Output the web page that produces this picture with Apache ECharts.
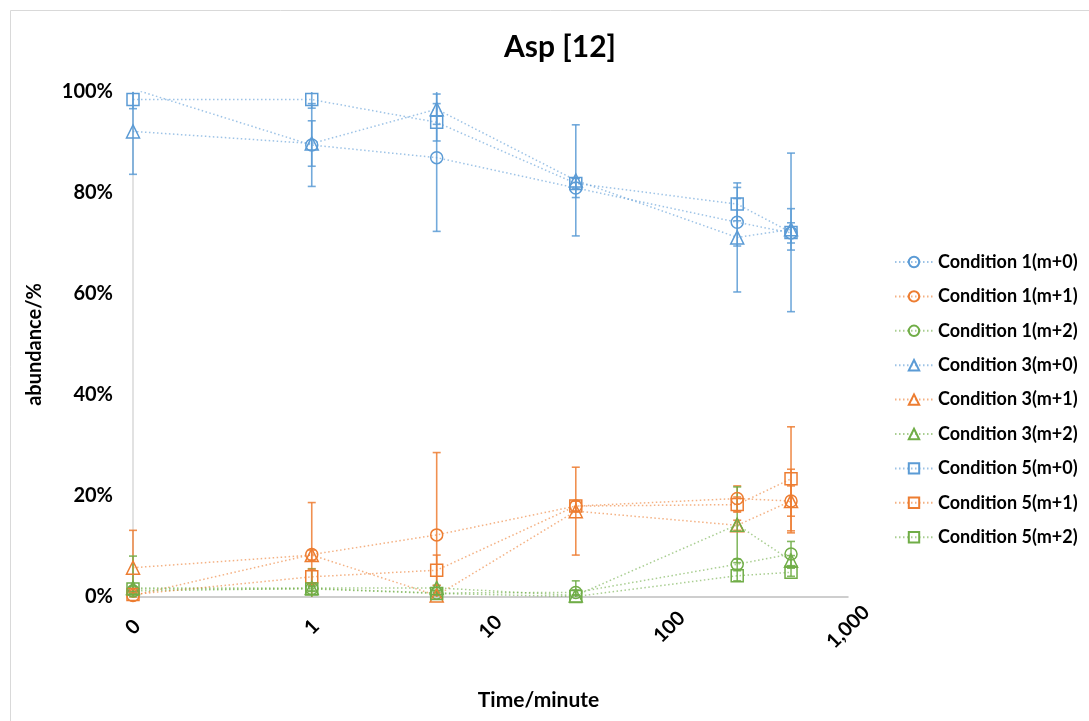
<!DOCTYPE html>
<html>
<head>
<meta charset="utf-8">
<title>Asp [12]</title>
<script src="https://cdn.jsdelivr.net/npm/echarts@6/dist/echarts.min.js"></script>
<style>
  html, body { margin: 0; padding: 0; background: #ffffff; }
  #chart { width: 1089px; height: 721px; }
</style>
</head>
<body>
<div id="chart"></div>
<script>
// Sampling times (minutes); the first sample sits on the "0" position of the log axis
const times = [0.1, 1, 5, 30, 240, 480];
const xTicks = [0.1, 1, 10, 100, 1000];
const xTickLabels = ['0', '1', '10', '100', '1,000'];
const yTicks = [0, 20, 40, 60, 80, 100];

// Isotopologue abundance (%) and error (±%) per condition
const c1m0 = [100.6, 89.5, 87.0, 81.0, 74.2, 72.1];
const c1m0Err = [0, 8.2, 14.6, 1.9, 4.7, 2.0];
const c1m1 = [0.3, 8.4, 12.3, 18.0, 19.5, 19.0];
const c1m1Err = [0.5, 10.3, 16.3, 1.0, 2.5, 3.0];
const c1m2 = [1.2, 1.7, 0.8, 0.9, 6.5, 8.5];
const c1m2Err = [0.5, 0.5, 0.5, 0.5, 1.0, 2.5];

const c3m0 = [92.2, 89.8, 96.6, 82.5, 71.2, 72.8];
const c3m0Err = [8.5, 4.5, 3.0, 11.0, 10.8, 4.1];
const c3m1 = [5.8, 8.3, 0.3, 17.0, 14.2, 19.0];
const c3m1Err = [7.4, 1.0, 0.5, 8.7, 1.0, 6.3];
const c3m2 = [1.8, 1.8, 1.8, 0.3, 14.3, 7.2];
const c3m2Err = [6.3, 3.8, 0.5, 2.9, 7.5, 1.0];

const c5m0 = [98.5, 98.5, 94.0, 81.9, 77.8, 72.2];
const c5m0Err = [1.8, 1.7, 3.7, 1.0, 3.3, 15.7];
const c5m1 = [0.5, 4.0, 5.3, 18.0, 18.3, 23.4];
const c5m1Err = [0.5, 1.5, 3.0, 1.0, 1.5, 10.3];
const c5m2 = [1.6, 1.6, 0.7, 0.1, 4.2, 4.9];
const c5m2Err = [0.5, 0.5, 0.3, 0.3, 1.0, 0.8];

const seriesNames = [
  'Condition 1(m+0)', 'Condition 1(m+1)', 'Condition 1(m+2)',
  'Condition 3(m+0)', 'Condition 3(m+1)', 'Condition 3(m+2)',
  'Condition 5(m+0)', 'Condition 5(m+1)', 'Condition 5(m+2)'
];

const BLUE = '#5b9bd5', ORANGE = '#ed7d31', GREEN = '#70ad47';
const FONT = 'Lato, "Open Sans", sans-serif';

const defs = [
  { values: c1m0, err: c1m0Err, color: BLUE,   symbol: 'circle' },
  { values: c1m1, err: c1m1Err, color: ORANGE, symbol: 'circle' },
  { values: c1m2, err: c1m2Err, color: GREEN,  symbol: 'circle' },
  { values: c3m0, err: c3m0Err, color: BLUE,   symbol: 'triangle' },
  { values: c3m1, err: c3m1Err, color: ORANGE, symbol: 'triangle' },
  { values: c3m2, err: c3m2Err, color: GREEN,  symbol: 'triangle' },
  { values: c5m0, err: c5m0Err, color: BLUE,   symbol: 'rect' },
  { values: c5m1, err: c5m1Err, color: ORANGE, symbol: 'rect' },
  { values: c5m2, err: c5m2Err, color: GREEN,  symbol: 'rect' }
];

const Y_MIN = 0, Y_MAX = 100;
const CAP = 4;

// Vertical error bar with caps, cut off at the plot edges
function errorBarRenderer(color) {
  return function (params, api) {
    const x = api.value(0), y = api.value(1), e = api.value(2);
    if (!e) return null;
    const hi = y + e, lo = y - e;
    const top = api.coord([x, Math.min(hi, Y_MAX)]);
    const bot = api.coord([x, Math.max(lo, Y_MIN)]);
    const style = { stroke: color, lineWidth: 1.6, opacity: 0.85 };
    const children = [{
      type: 'line',
      shape: { x1: top[0], y1: top[1], x2: bot[0], y2: bot[1] },
      style: style
    }];
    if (hi <= Y_MAX) {
      children.push({ type: 'line', shape: { x1: top[0] - CAP, y1: top[1], x2: top[0] + CAP, y2: top[1] }, style: style });
    }
    if (lo >= Y_MIN) {
      children.push({ type: 'line', shape: { x1: bot[0] - CAP, y1: bot[1], x2: bot[0] + CAP, y2: bot[1] }, style: style });
    }
    return { type: 'group', children: children };
  };
}

const series = [];
defs.forEach(function (d, i) {
  series.push({
    name: seriesNames[i] + ' error',
    type: 'custom',
    renderItem: errorBarRenderer(d.color),
    encode: { x: 0, y: 1 },
    data: times.map(function (t, k) { return [t, d.values[k], d.err[k]]; }),
    z: 2,
    silent: true
  });
});
defs.forEach(function (d, i) {
  series.push({
    name: seriesNames[i],
    type: 'line',
    data: times.map(function (t, k) { return [t, d.values[k]]; }),
    symbol: d.symbol,
    symbolSize: d.symbol === 'triangle' ? 13 : 12,
    clip: true,
    lineStyle: { color: d.color, width: 1.5, type: [1.5, 2.5], opacity: 0.6 },
    itemStyle: { color: 'rgba(255,255,255,0)', borderColor: d.color, borderWidth: 1.5 },
    emphasis: { disabled: true },
    z: 3
  });
});

const chart = echarts.init(document.getElementById('chart'), null, { renderer: 'canvas' });
chart.setOption({
  animation: false,
  backgroundColor: '#ffffff',
  textStyle: { fontFamily: FONT },
  graphic: [{
    type: 'rect',
    shape: { x: 10.5, y: 10.5, width: 1100, height: 740 },
    style: { fill: 'none', stroke: '#d9d9d9', lineWidth: 1 },
    silent: true
  }],
  title: {
    text: 'Asp [12]',
    left: 555,
    top: 27,
    textAlign: 'center',
    textStyle: { fontFamily: FONT, fontSize: 30, fontWeight: 'bold', color: '#000000' }
  },
  grid: { left: 133, right: 241, top: 92, bottom: 124 },
  xAxis: {
    type: 'log',
    logBase: 10,
    min: xTicks[0],
    max: xTicks[xTicks.length - 1],
    name: 'Time/minute',
    nameLocation: 'middle',
    nameGap: 93,
    nameTextStyle: { fontFamily: FONT, fontSize: 21, fontWeight: 'bold', color: '#000000', padding: [0, 0, 0, 96] },
    axisLine: { show: true, lineStyle: { color: '#bfbfbf', width: 1.5 } },
    axisTick: { show: false },
    splitLine: { show: false },
    minorTick: { show: false },
    axisLabel: {
      rotate: 45,
      align: 'center',
      verticalAlign: 'middle',
      margin: 30,
      fontFamily: FONT,
      fontSize: 20,
      fontWeight: 'bold',
      color: '#000000',
      formatter: function (v) {
        let best = 0;
        xTicks.forEach(function (t, k) {
          if (Math.abs(Math.log10(t) - Math.log10(v)) < Math.abs(Math.log10(xTicks[best]) - Math.log10(v))) best = k;
        });
        return xTickLabels[best];
      }
    }
  },
  yAxis: {
    type: 'value',
    min: yTicks[0],
    max: yTicks[yTicks.length - 1],
    interval: 20,
    name: 'abundance/%',
    nameLocation: 'middle',
    nameGap: 88,
    nameRotate: 90,
    nameTextStyle: { fontFamily: FONT, fontSize: 20, fontWeight: 'bold', color: '#000000' },
    axisLine: { show: true, lineStyle: { color: '#d9d9d9', width: 1.5 } },
    axisTick: { show: false },
    splitLine: { show: false },
    axisLabel: {
      margin: 20,
      fontFamily: FONT,
      fontSize: 20,
      fontWeight: 'bold',
      color: '#000000',
      formatter: '{value}%'
    }
  },
  legend: {
    data: seriesNames,
    orient: 'vertical',
    left: 889,
    top: 247,
    itemWidth: 38,
    itemHeight: 13,
    itemGap: 14.4,
    selectedMode: false,
    textStyle: { fontFamily: FONT, fontSize: 18, fontWeight: 'bold', color: '#000000', lineHeight: 20 }
  },
  series: series
});
</script>
</body>
</html>
